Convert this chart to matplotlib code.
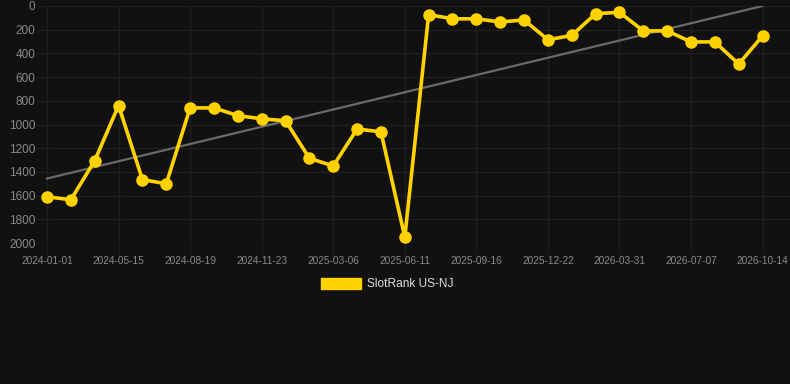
import numpy as np
import matplotlib.pyplot as plt
from matplotlib.patches import Patch

plt.rcParams['font.family'] = ['Liberation Sans', 'DejaVu Sans']

# dates (category axis), labels shown every 3rd point
dates = ['2024-01-01', '2024-02-15', '2024-03-31', '2024-05-15', '2024-06-15', '2024-07-18',
         '2024-08-19', '2024-09-20', '2024-10-22', '2024-11-23', '2024-12-27', '2025-01-31',
         '2025-03-06', '2025-04-07', '2025-05-10', '2025-06-11', '2025-07-13', '2025-08-14',
         '2025-09-16', '2025-10-18', '2025-11-20', '2025-12-22', '2026-01-24', '2026-02-26',
         '2026-03-31', '2026-05-02', '2026-06-04', '2026-07-07', '2026-08-08', '2026-09-10',
         '2026-10-14']
rank = [1610, 1635, 1305, 840, 1465, 1500, 860, 860, 925, 952, 968, 1285,
        1350, 1038, 1062, 1950, 73, 108, 108, 135, 118, 285, 248, 65, 53,
        210, 210, 303, 303, 490, 252]

bg = '#111111'
grid_c = '#1f1f1f'
yellow = '#FFD200'

fig = plt.figure(figsize=(7.9, 3.84), dpi=100, facecolor=bg)
ax = fig.add_axes([37 / 790, 1 - 243 / 384, 1 - 37 / 790, 237 / 384])
ax.set_facecolor(bg)

x = np.arange(len(rank))

# trend line (linear fit)
k, b = np.polyfit(x, rank, 1)
ax.plot(x, k * x + b, color='#6a6a6a', lw=1.6, zorder=2)

ax.plot(x, rank, color=yellow, lw=2.6, marker='o', markersize=8, zorder=3,
        solid_joinstyle='round')

ax.set_ylim(2000, 0)
ax.set_xlim(-0.42, 31.15)
ax.set_yticks(np.arange(0, 2001, 200))
ax.set_xticks(x[::3])
ax.set_xticklabels(dates[::3])

ax.grid(True, color=grid_c, lw=1)
for s in ax.spines.values():
    s.set_visible(False)
ax.tick_params(axis='y', length=0, pad=1, labelsize=8.5, labelcolor='#8a8a8a')
ax.tick_params(axis='x', length=8, color=grid_c, pad=1, labelsize=7.3, labelcolor='#8a8a8a')

fig.legend(handles=[Patch(facecolor=yellow, edgecolor=yellow, label='SlotRank US-NJ')],
           loc='center', bbox_to_anchor=(0.49, 0.26), frameon=False,
           fontsize=8.6, labelcolor='#dddddd', handlelength=3.4, handleheight=1.0,
           handletextpad=0.5)

fig.savefig('out.png', dpi=100, facecolor=bg)
